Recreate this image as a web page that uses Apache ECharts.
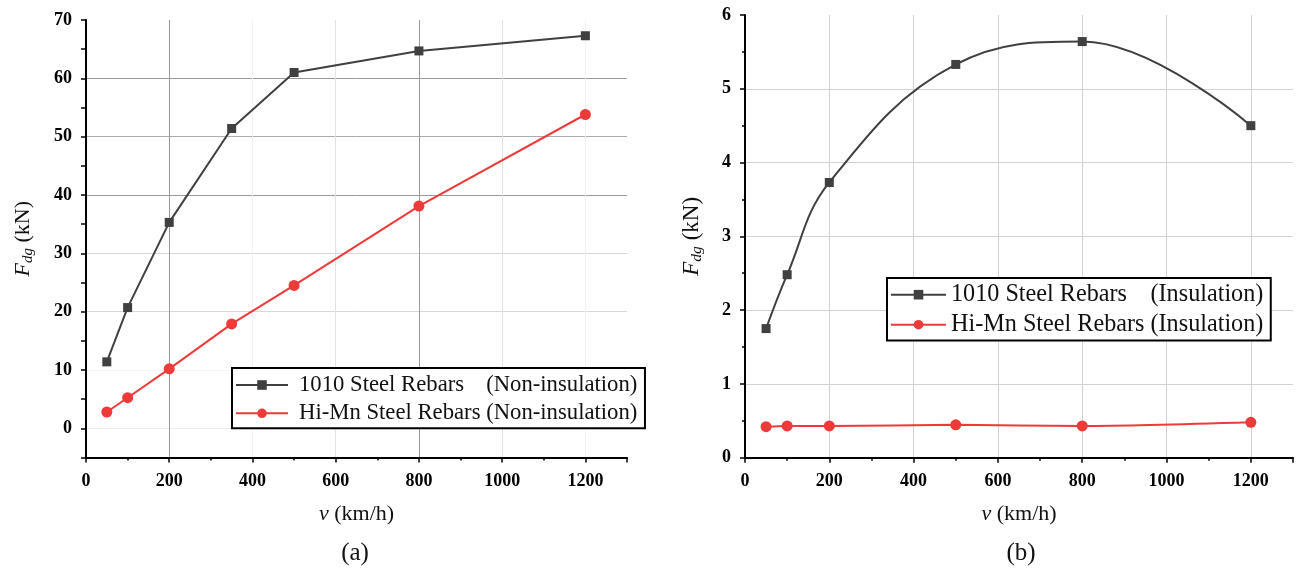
<!DOCTYPE html>
<html>
<head>
<meta charset="utf-8">
<script src="https://cdn.jsdelivr.net/npm/echarts@6/dist/echarts.min.js"></script>
<style>
  html, body { margin: 0; padding: 0; background: #fff; }
  #chart { width: 1300px; height: 568px; }
</style>
</head>
<body>
<div id="chart"></div>
<script>
// Drag force F_dg (kN) against speed v (km/h)
// (a) without insulation
const speedsA = [50, 100, 200, 350, 500, 800, 1200];
const rebar1010NonIns = [11.4, 20.7, 35.3, 51.4, 61.0, 64.7, 67.3];
const hiMnNonIns = [2.8, 5.25, 10.2, 17.9, 24.5, 38.1, 53.8];
// (b) with insulation
const speedsB = [50, 100, 200, 500, 800, 1200];
const rebar1010Ins = [1.75, 2.48, 3.73, 5.33, 5.64, 4.50];
const hiMnIns = [0.42, 0.43, 0.43, 0.445, 0.43, 0.48];

const seriesNames = [
  '1010 Steel Rebars (Non-insulation)',
  'Hi-Mn Steel Rebars (Non-insulation)',
  '1010 Steel Rebars (Insulation)',
  'Hi-Mn Steel Rebars (Insulation)'
];
const panelLabels = ['(a)', '(b)'];

const SERIF = '"Liberation Serif", "Times New Roman", serif';
const DARK = '#404040';
const RED = '#ef3a3a';

function pairs(xs, ys) { return xs.map((x, i) => [x, ys[i]]); }

function textWidth(str, size) {
  const ctx = document.createElement('canvas').getContext('2d');
  ctx.font = size + 'px ' + SERIF;
  return ctx.measureText(str).width;
}

const legendFontA = 22.7, legendFontB = 24.2;

function legendCfg(names, pos, font, lh, itemWidth, gap, padding, lead) {
  const nameW = textWidth('Hi-Mn Steel Rebars ', font);
  return {
    data: names,
    orient: 'vertical',
    left: pos[0], top: pos[1],
    itemWidth: itemWidth, itemHeight: 12, itemGap: gap,
    padding: padding,
    borderColor: '#000', borderWidth: 2,
    backgroundColor: '#fff',
    selectedMode: false,
    lineStyle: { width: 2 },
    formatter: function (name) {
      const k = name.indexOf(' (');
      return '{n|' + name.slice(0, k) + '}{s|' + name.slice(k + 1) + '}';
    },
    textStyle: {
      fontFamily: SERIF, fontSize: font, color: '#111', lineHeight: lh, height: lh,
      rich: {
        n: { fontFamily: SERIF, fontSize: font, color: '#111', width: nameW, lineHeight: lh, height: lh, padding: [0, 0, 0, lead] },
        s: { fontFamily: SERIF, fontSize: font, color: '#111', lineHeight: lh, height: lh }
      }
    }
  };
}

const tickLabel = { fontFamily: SERIF, fontWeight: 'bold', fontSize: 18, color: '#000' };
const axisLine = { show: true, onZero: false, lineStyle: { color: '#000', width: 2 } };
const axisTick = { show: true, inside: false, length: 5, lineStyle: { color: '#000', width: 1.5 } };
const minorTick = { show: true, splitNumber: 2, length: 3, lineStyle: { color: '#000', width: 1.5 } };
const plain = v => String(v);

function xName() {
  return {
    name: '{v|v}{t| (km/h)}',
    nameLocation: 'middle',
    nameGap: 46,
    nameTextStyle: {
      rich: {
        v: { fontFamily: SERIF, fontSize: 22, fontStyle: 'italic', color: '#111' },
        t: { fontFamily: SERIF, fontSize: 22, color: '#111' }
      }
    }
  };
}
function yName(size, gap) {
  return {
    name: '{f|F}{d|dg}{k| (kN)}',
    nameLocation: 'middle',
    nameGap: gap,
    nameTextStyle: {
      rich: {
        f: { fontFamily: SERIF, fontSize: size, fontStyle: 'italic', color: '#111', lineHeight: 26 },
        d: { fontFamily: SERIF, fontSize: size * 0.68, fontStyle: 'italic', color: '#111', lineHeight: 12, verticalAlign: 'bottom' },
        k: { fontFamily: SERIF, fontSize: size, color: '#111', lineHeight: 26 }
      }
    }
  };
}

const chart = echarts.init(document.getElementById('chart'), null, { renderer: 'canvas' });

chart.setOption({
  animation: false,
  backgroundColor: '#fff',
  grid: [
    { left: 86, top: 20, width: 541, height: 437.5, containLabel: false },
    { left: 745, top: 15, width: 548, height: 442.7, containLabel: false }
  ],
  xAxis: [
    Object.assign({
      type: 'value', gridIndex: 0, min: 0, max: 1300, interval: 200,
      axisLine: axisLine, axisTick: axisTick, minorTick: minorTick,
      axisLabel: Object.assign({ margin: 15, showMaxLabel: false, formatter: plain }, tickLabel),
      splitLine: { show: true, showMinLine: false, showMaxLine: false,
        lineStyle: { width: 1, color: ['#9a9a9a', '#f2f2f2', '#e2e2e2', '#9a9a9a', '#e2e2e2', '#f2f2f2'] } }
    }, xName()),
    Object.assign({
      type: 'value', gridIndex: 1, min: 0, max: 1300, interval: 200,
      axisLine: axisLine, axisTick: axisTick, minorTick: minorTick,
      axisLabel: Object.assign({ margin: 15, showMaxLabel: false, formatter: plain }, tickLabel),
      splitLine: { show: true, showMinLine: false, showMaxLine: false,
        lineStyle: { width: 1, color: '#d2d2d2' } }
    }, xName())
  ],
  yAxis: [
    Object.assign({
      type: 'value', gridIndex: 0, min: -5, max: 70, interval: 5,
      axisLine: axisLine, axisTick: axisTick,
      axisLabel: Object.assign({ margin: 14, formatter: v => (v % 10 === 0 ? String(v) : '') }, tickLabel),
      splitLine: { show: true, showMinLine: false, showMaxLine: false,
        lineStyle: { width: 1, color: [
          '#eeeeee', 'rgba(0,0,0,0)', '#f3f3f3', 'rgba(0,0,0,0)', '#d8d8d8', 'rgba(0,0,0,0)',
          '#d6d6d6', 'rgba(0,0,0,0)', '#9a9a9a', 'rgba(0,0,0,0)', '#acacac', 'rgba(0,0,0,0)',
          '#9a9a9a', 'rgba(0,0,0,0)'] } }
    }, yName(22, 50)),
    Object.assign({
      type: 'value', gridIndex: 1, min: 0, max: 6, interval: 1,
      axisLine: axisLine, axisTick: axisTick, minorTick: minorTick,
      axisLabel: Object.assign({ margin: 14, formatter: plain }, tickLabel),
      splitLine: { show: true, showMinLine: false, showMaxLine: false,
        lineStyle: { width: 1, color: '#d2d2d2' } }
    }, yName(23, 40))
  ],
  legend: [
    legendCfg(seriesNames.slice(0, 2), [232, 368], legendFontA, 26, 52, 2.3, [4, 7.6, 2, 3], 6),
    legendCfg(seriesNames.slice(2, 4), [887, 278], legendFontB, 28, 55, 2, [2.7, 7.4, 1.7, 3], 0)
  ],
  series: [
    { name: seriesNames[0], type: 'line', xAxisIndex: 0, yAxisIndex: 0,
      data: pairs(speedsA, rebar1010NonIns), symbol: 'rect', symbolSize: 9,
      lineStyle: { color: DARK, width: 2 }, itemStyle: { color: DARK } },
    { name: seriesNames[1], type: 'line', xAxisIndex: 0, yAxisIndex: 0,
      data: pairs(speedsA, hiMnNonIns), symbol: 'circle', symbolSize: 11,
      lineStyle: { color: RED, width: 2 }, itemStyle: { color: RED } },
    { name: seriesNames[2], type: 'line', xAxisIndex: 1, yAxisIndex: 1, smooth: 0.4,
      data: pairs(speedsB, rebar1010Ins), symbol: 'rect', symbolSize: 9,
      lineStyle: { color: DARK, width: 2 }, itemStyle: { color: DARK } },
    { name: seriesNames[3], type: 'line', xAxisIndex: 1, yAxisIndex: 1, smooth: 0.3,
      data: pairs(speedsB, hiMnIns), symbol: 'circle', symbolSize: 11,
      lineStyle: { color: RED, width: 2 }, itemStyle: { color: RED } }
  ],
  graphic: [
    { type: 'text', x: 355, y: 553,
      style: { text: panelLabels[0], font: '25px ' + SERIF, fill: '#111',
        align: 'center', verticalAlign: 'middle', textAlign: 'center', textVerticalAlign: 'middle' } },
    { type: 'text', x: 1021, y: 553,
      style: { text: panelLabels[1], font: '25px ' + SERIF, fill: '#111',
        align: 'center', verticalAlign: 'middle', textAlign: 'center', textVerticalAlign: 'middle' } }
  ]
});
</script>
</body>
</html>
